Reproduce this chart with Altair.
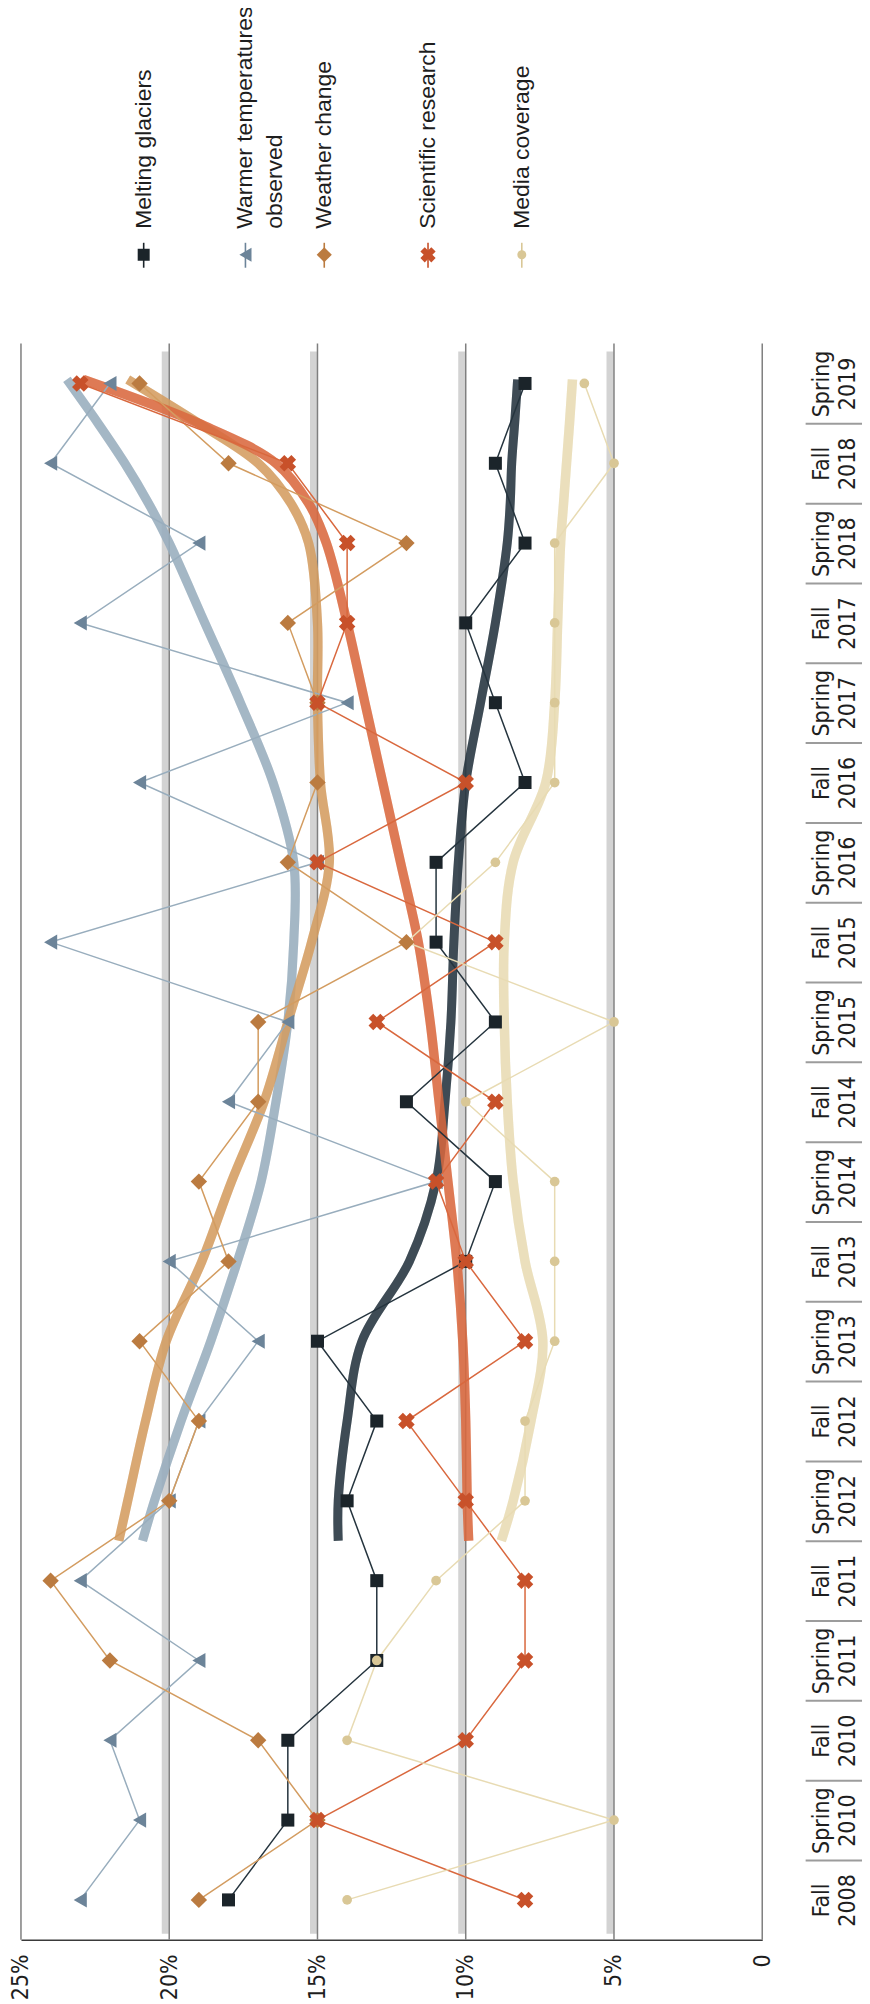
import altair as alt
import pandas as pd

# ---------------- data ----------------
periods = ["Fall 2008", "Spring 2010", "Fall 2010", "Spring 2011", "Fall 2011",
           "Spring 2012", "Fall 2012", "Spring 2013", "Fall 2013", "Spring 2014",
           "Fall 2014", "Spring 2015", "Fall 2015", "Spring 2016", "Fall 2016",
           "Spring 2017", "Fall 2017", "Spring 2018", "Fall 2018", "Spring 2019"]

series_names = ["Melting glaciers", "Warmer temperatures observed", "Weather change",
                "Scientific research", "Media coverage"]
legend_lines = [["Melting glaciers"], ["Warmer temperatures", "observed"],
                ["Weather change"], ["Scientific research"], ["Media coverage"]]

melting    = [18, 16, 16, 13, 13, 14, 13, 15, 10, 9, 12, 9, 11, 11, 8, 9, 10, 8, 9, 8]
warmer     = [23, 21, 22, 19, 23, 20, 19, 17, 20, 11, 18, 16, 24, 15, 21, 14, 23, 19, 24, 22]
weather    = [19, 15, 17, 22, 24, 20, 19, 21, 18, 19, 17, 17, 12, 16, 15, 15, 16, 12, 18, 21]
scientific = [8, 15, 10, 8, 8, 10, 12, 8, 10, 11, 9, 13, 9, 15, 10, 15, 14, 14, 16, 23]
media      = [14, 5, 14, 13, 11, 8, 8, 7, 7, 7, 10, 5, 12, 9, 7, 7, 7, 7, 5, 6]

# trend curves (position index along the period axis)
trend_idx        = [4.5, 5, 6, 7, 8, 9, 10, 11, 12, 13, 14, 15, 16, 17, 17.5, 18, 18.5, 19.05]
trend_melting    = [14.3, 14.3, 14.0, 13.5, 11.9, 11.0, 10.7, 10.5, 10.4, 10.25, 10.0, 9.5, 9.0, 8.6, 8.5, 8.45, 8.35, 8.25]
trend_warmer     = [20.9, 20.5, 19.6, 18.6, 17.7, 16.9, 16.4, 16.0, 15.8, 15.8, 16.5, 17.6, 18.8, 20.0, 20.7, 21.5, 22.4, 23.45]
trend_weather    = [21.7, 21.4, 20.8, 20.1, 18.9, 17.9, 16.8, 16.0, 15.2, 14.6, 14.9, 15.0, 15.0, 15.3, 15.9, 17.0, 19.0, 21.4]
trend_scientific = [9.9, 9.95, 10.0, 10.1, 10.3, 10.6, 10.9, 11.2, 11.6, 12.2, 12.8, 13.4, 14.0, 14.7, 15.3, 16.4, 19.0, 22.9]
trend_media      = [8.8, 8.4, 7.8, 7.4, 8.0, 8.4, 8.6, 8.7, 8.7, 8.4, 7.3, 7.0, 6.9, 6.8, 6.7, 6.6, 6.5, 6.4]

value_ticks = [25, 20, 15, 10, 5, 0]
band_ticks = [20, 15, 10, 5]

# ---------------- style ----------------
line_colors  = ["#1b242a", "#6c8499", "#bb7b40", "#c8512a", "#d9c796"]
trend_colors = ["#25343e", "#98adbd", "#d39c60", "#d9683e", "#e8dbb3"]
trend_widths = [5, 5.5, 5.5, 3.5, 6]
shapes = ["square", "triangle-left", "diamond", "cross", "circle"]
sizes  = [170, 230, 270, 280, 95]
angles = [0, 0, 0, 45, 0]
marker_order = [0, 1, 4, 2, 3]   # drawing order of the marker layers

FONT_AX = "Liberation Sans Narrow, DejaVu Sans Condensed, Arial Narrow, sans-serif"
FONT_LG = "Liberation Sans, Arial, Helvetica, sans-serif"

all_vals = [melting, warmer, weather, scientific, media]
all_trends = [trend_melting, trend_warmer, trend_weather, trend_scientific, trend_media]

rows = []
for name, vals in zip(series_names, all_vals):
    for i, v in enumerate(vals):
        rows.append({"series": name, "idx": i, "value": v, "period": periods[i]})
df = pd.DataFrame(rows)

trows = []
for name, vals in zip(series_names, all_trends):
    for i, v in zip(trend_idx, vals):
        trows.append({"series": name, "idx": i, "value": v})
tdf = pd.DataFrame(trows)

grid_df = pd.DataFrame({"value": value_ticks})
band_df = pd.DataFrame({"value": band_ticks})

# ---------------- scales / axes ----------------
xscale = alt.Scale(domain=[0, 25], reverse=True, nice=False, zero=False)
yscale = alt.Scale(domain=[-0.5, 19.5], nice=False, zero=False)

xaxis = alt.Axis(values=[0, 5, 10, 15, 20, 25],
                 labelExpr="datum.value == 0 ? '0' : datum.value + '%'",
                 labelAngle=270, labelAlign="right", labelBaseline="middle",
                 labelPadding=14, ticks=False, domain=True, domainColor="#3a3a3a",
                 domainWidth=1.6, grid=False, labelFont=FONT_AX, labelFontSize=23,
                 labelColor="#1e1e1e", labelFlush=False, labelOverlap=False, title=None)

js_periods = "[" + ",".join("'" + p + "'" for p in periods) + "]"
yaxis = alt.Axis(orient="right", values=[i - 0.5 for i in range(20)],
                 labelExpr="split(" + js_periods + "[round(datum.value + 0.5)], ' ')",
                 labelAngle=270, labelAlign="center", labelBaseline="top",
                 labelOffset=-40, labelPadding=-53, tickSize=58, tickWidth=2,
                 tickColor="#9c9c9c",
                 tickOpacity={"condition": {"test": "datum.value < 0", "value": 0}, "value": 1},
                 offset=43, domain=False, grid=False, labelFont=FONT_AX,
                 labelFontSize=23, labelLineHeight=26, labelColor="#1e1e1e",
                 labelFlush=False, labelOverlap=False, title=None)

X = alt.X("value:Q", scale=xscale, axis=xaxis, title=None)
Y = alt.Y("idx:Q", scale=yscale, axis=yaxis, title=None)

# ---------------- layers ----------------
bands = alt.Chart(band_df).mark_rule(color="#d3d3d3", strokeWidth=7, xOffset=-4).encode(
    x=X, y=alt.value(8), y2=alt.value(1594))
grid = alt.Chart(grid_df).mark_rule(color="#7f7f7f", strokeWidth=1.5).encode(
    x=X, y=alt.value(0), y2=alt.value(1600))

cscale_trend = alt.Scale(domain=series_names, range=trend_colors)
cscale_line = alt.Scale(domain=series_names, range=line_colors)
wscale = alt.Scale(domain=series_names, range=trend_widths)
wscale_glow = alt.Scale(domain=series_names, range=[w + 4 for w in trend_widths])

trend_glow = alt.Chart(tdf).mark_line(interpolate="catmull-rom", opacity=0.22, strokeCap="butt").encode(
    x=X, y=Y, order=alt.Order("idx:Q"),
    color=alt.Color("series:N", scale=cscale_trend, legend=None),
    strokeWidth=alt.StrokeWidth("series:N", scale=wscale_glow, legend=None))
trend_core = alt.Chart(tdf).mark_line(interpolate="catmull-rom", opacity=0.85, strokeCap="butt").encode(
    x=X, y=Y, order=alt.Order("idx:Q"),
    color=alt.Color("series:N", scale=cscale_trend, legend=None),
    strokeWidth=alt.StrokeWidth("series:N", scale=wscale, legend=None))

lines = alt.Chart(df).mark_line(strokeWidth=1.5).encode(
    x=X, y=Y, order=alt.Order("idx:Q"),
    color=alt.Color("series:N", scale=cscale_line, legend=None))

layers = [bands, grid, trend_glow, trend_core, lines]

for k in marker_order:
    name = series_names[k]
    sub = df[df.series == name]
    layers.append(
        alt.Chart(sub).mark_point(filled=True, opacity=1, shape=shapes[k], size=sizes[k],
                                  angle=angles[k], color=line_colors[k]).encode(x=X, y=Y))

# legend (rotated, drawn manually above the plot)
leg_x = [123, 225, 304, 408, 502]
for k, name in enumerate(series_names):
    one = pd.DataFrame({"series": [name]})
    layers.append(alt.Chart(one).mark_rule(color=line_colors[k], strokeWidth=1.6).encode(
        x=alt.value(leg_x[k]), y=alt.value(-101), y2=alt.value(-76)))
    layers.append(alt.Chart(one).mark_point(filled=True, opacity=1, shape=shapes[k],
                                            size=sizes[k] * 0.85, angle=angles[k],
                                            color=line_colors[k]).encode(
        x=alt.value(leg_x[k]), y=alt.value(-89)))
    for j, txt in enumerate(legend_lines[k]):
        layers.append(alt.Chart(one).mark_text(text=txt, angle=270, align="left",
                                               baseline="middle", font=FONT_LG,
                                               fontSize=23, color="#1e1e1e").encode(
            x=alt.value(leg_x[k] + 30 * j), y=alt.value(-115)))

chart = alt.layer(*layers).properties(
    width=743, height=1600,
    padding={"left": 13, "top": 334, "right": 100, "bottom": 60},
    autosize=alt.AutoSizeParams(type="none"),
).configure_view(stroke=None)

chart.save("out.html", embed_options={"renderer": "svg", "actions": False})
